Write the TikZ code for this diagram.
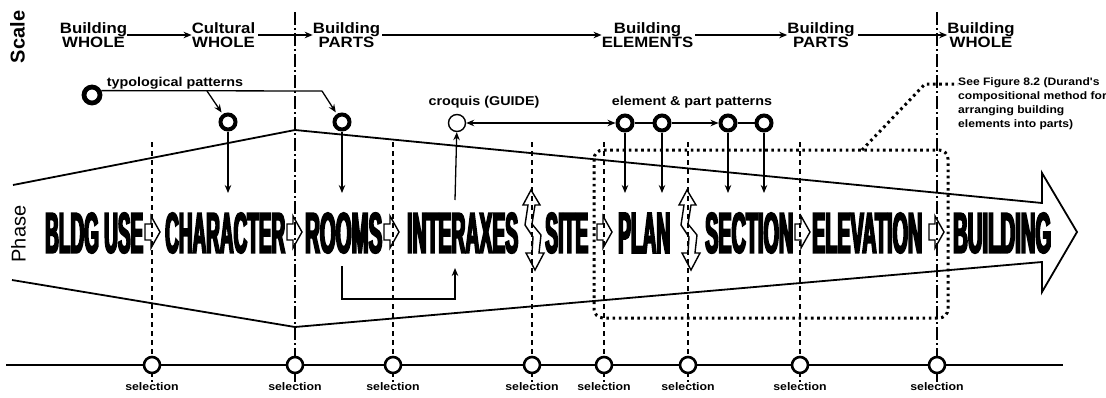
\documentclass[tikz,border=0pt]{standalone}
\usepackage{fontspec}
\setmainfont{Liberation Sans}
\newfontfamily\labf{Liberation Sans}[FakeStretch=1.12]
\newfontfamily\phf{Liberation Sans}[UprightFont={* Bold},FakeStretch=0.34,FakeBold=3]
\usetikzlibrary{arrows.meta}
\newcommand\pw[2]{\resizebox{#1pt}{40pt}{\phf #2}}
\begin{document}
\begin{tikzpicture}[x=1pt,y=-1pt,
  lbl/.style={font=\labf\bfseries\fontsize{15}{13.4}\selectfont,align=center,inner sep=0pt},
  plab/.style={font=\labf\bfseries\fontsize{12.8}{14}\selectfont,inner sep=0pt},
  slab/.style={font=\labf\bfseries\fontsize{11}{12}\selectfont,inner sep=1pt},
  note/.style={font=\labf\bfseries\fontsize{10.8}{14}\selectfont,align=left,inner sep=0pt},
  conn/.style={line width=1.3pt},
  arr/.style={conn,-{Stealth[length=8pt,width=6.5pt]}},
  darr/.style={conn,{Stealth[length=8pt,width=6.5pt]}-{Stealth[length=8pt,width=6.5pt]}},
  pat/.style={circle,draw,line width=4pt,minimum size=15pt,inner sep=0pt,fill=white},
  bigpat/.style={circle,draw,line width=4.8pt,minimum size=16pt,inner sep=0pt,fill=white},
  thinpat/.style={circle,draw,line width=1.4pt,minimum size=17pt,inner sep=0pt,fill=white},
  sel/.style={circle,draw,line width=2.6pt,minimum size=16pt,inner sep=0pt,fill=white},
  vdash/.style={line width=1.2pt,dash pattern=on 5pt off 4pt},
  vdd/.style={line width=1.2pt,dash pattern=on 13pt off 3pt on 2pt off 3pt},
  dotb/.style={line width=3pt,dash pattern=on 2.6pt off 3.6pt},
  hol/.style={line width=1.4pt,line join=miter},
  phw/.style={inner sep=0pt,anchor=west},
  harr/.pic={\draw[hol] (0,-8) -- (6,-8) -- (6,-16) -- (15,0) -- (6,16) -- (6,8) -- (0,8) -- cycle;},
  zz/.pic={\draw[hol] (-1,-40) -- (8,-25) -- (3,-25) -- (0,-6) -- (9,5) -- (7,23) -- (12,23) -- (3,40) -- (-6,23) -- (0,23) -- (1,7) -- (-7,-5) -- (-4,-25) -- (-9,-25) -- cycle;}
]
\useasboundingbox[fill=white] (0,0) rectangle (1106,397);

% side labels
\node[rotate=90,font=\bfseries\fontsize{20}{20}\selectfont,inner sep=0pt] (scl) at (17.5,37) {Scale};
\node[rotate=90,font=\fontsize{20}{20}\selectfont,inner sep=0pt] (phl) at (18.5,234) {Phase};

% scale row
\node[lbl] (s1) at (93.5,35) {Building\\WHOLE};
\node[lbl] (s2) at (223.5,35) {Cultural\\WHOLE};
\node[lbl] (s3) at (346.5,35) {Building\\PARTS};
\node[lbl] (s4) at (647.5,35) {Building\\ELEMENTS};
\node[lbl] (s5) at (821,35) {Building\\PARTS};
\node[lbl] (s6) at (981,35) {Building\\WHOLE};
\draw[arr] (s1) -- (s2);
\draw[arr,shorten <=3pt] (s2) -- (s3);
\draw[arr,shorten <=2pt] (s3) -- (s4);
\draw[arr,shorten <=2pt] (s4) -- (s5);
\draw[arr,shorten <=3pt] (s5) -- (s6);

% big tapered arrow
\coordinate (ul) at (13,185);
\coordinate (um) at (295,130);
\coordinate (ll) at (12,280);
\coordinate (lm) at (295,327);
\coordinate (tip) at (1077,232);
\draw[line width=1.8pt,line join=miter] (ul) -- (um) -- (1042,203) -- (1042,173) -- (tip) -- (1042,292) -- (1042,262) -- (lm) -- (ll);

% dotted box and leader
\draw[dotb,rounded corners=9pt] (594,150) rectangle (948,318);
\node[note,anchor=north west] (nt) at (958,77) {See Figure 8.2 (Durand's\\compositional method for\\arranging building\\elements into parts)};
\coordinate (ld0) at (862,150);
\coordinate (ld1) at (925,84);
\draw[dotb] (ld0) -- (ld1) -- (ld1 -| nt.west);

% bottom line and selection circles
\coordinate (bl) at (6,365);
\coordinate (br) at (1063,365);
\draw[line width=1.8pt] (bl) -- (br);
\foreach \i/\x in {1/152,2/295,3/393,4/532,5/604,6/688,7/800,8/937}{
  \node[sel] (sel\i) at (\x,365) {};
  \node[slab] (sl\i) at (\x,387) {selection};
}
% vertical lines
\foreach \i/\x in {1/152,3/393,4/532,5/604,6/688,7/800}{
  \coordinate (v\i) at (\x,142);
  \draw[vdash] (v\i) -- (sel\i);
  \draw[line width=1.2pt,dash pattern=on 3pt off 3pt] (sel\i) -- (sl\i);
}
\coordinate (w2) at (295,12);
\coordinate (w8) at (937,12);
\draw[vdd] (w2) -- (sel2);
\draw[vdd] (w8) -- (sel8);
\draw[line width=1.3pt] (sel2) -- (sl2);
\draw[line width=1.3pt] (sel8) -- (sl8);

% phase words
\node[phw] (p1) at (45,233) {\pw{98}{BLDG USE}};
\node[phw] (p2) at (165,233) {\pw{120}{CHARACTER}};
\node[phw] (p3) at (305,233) {\pw{77}{ROOMS}};
\node[phw] (p4) at (407,233) {\pw{111}{INTERAXES}};
\node[phw] (p5) at (545,233) {\pw{43}{SITE}};
\node[phw] (p6) at (618,233) {\pw{52}{PLAN}};
\node[phw] (p7) at (705,233) {\pw{88}{SECTION}};
\node[phw] (p8) at (812,233) {\pw{110}{ELEVATION}};
\node[phw] (p9) at (953,233) {\pw{98}{BUILDING}};
\pic at (145,232) {harr};
\pic at (287,232) {harr};
\pic at (384,232) {harr};
\pic at (597,232) {harr};
\pic at (795,232) {harr};
\pic at (929,232) {harr};
\pic at (532,230) {zz};
\pic at (688,230) {zz};

% typological patterns
\node[bigpat] (t0) at (92,95) {};
\node[pat] (t1) at (228,122) {};
\node[pat] (t2) at (342,122) {};
\node[plab] (tl) at (175,83) {typological patterns};
\coordinate (tb) at (207,91);
\coordinate (tj) at (322,91);
\draw[conn] (t0.25) -- (tj);
\draw[arr,shorten >=2pt] (tb) -- (t1);
\draw[arr,shorten >=2pt] (tj) -- (t2);
\coordinate (d1) at (228,193);
\coordinate (d2) at (342,193);
\draw[arr] (t1) -- (d1);
\draw[arr] (t2) -- (d2);

% croquis and element patterns
\node[thinpat] (cq) at (457,123) {};
\node[plab] (cql) at (484,102) {croquis (GUIDE)};
\node[pat] (e1) at (625,123) {};
\node[pat] (e2) at (662,123) {};
\node[pat] (e3) at (728,123) {};
\node[pat] (e4) at (764,123) {};
\node[plab] (epl) at (692,102) {element \& part patterns};
\draw[darr] (cq) -- (e1);
\draw[conn] (e1) -- (e2);
\draw[arr] (e2) -- (e3);
\draw[conn] (e3) -- (e4);
\foreach \n/\x in {e1/625,e2/662,e3/728,e4/764}{
  \coordinate (d\n) at (\x,193);
  \draw[arr] (\n) -- (d\n);
}
\coordinate (iu) at (455,200);
\draw[arr] (iu) -- (cq);
\coordinate (rb) at (342,266);
\coordinate (bk) at (455,299);
\coordinate (ib) at (455,268);
\draw[arr] (rb) |- (bk) -- (ib);
\end{tikzpicture}
\end{document}
